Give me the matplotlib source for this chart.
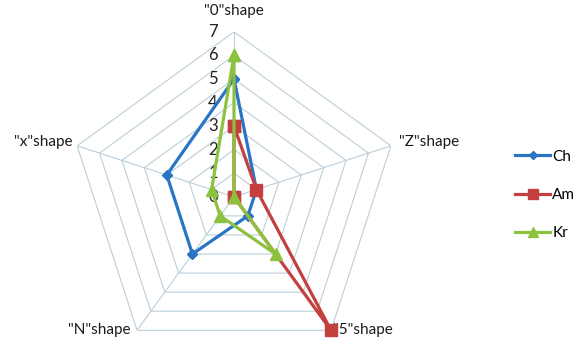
import numpy as np
import matplotlib
matplotlib.use("Agg")
import matplotlib.pyplot as plt

# categories clockwise from the top
categories = ['"0"shape', '"Z"shape', '"5"shape', '"N"shape', '"x"shape']
ch = [5, 1, 1, 3, 3]
am = [3, 1, 7, 0, 0]
kr = [6, 0, 3, 1, 1]
r_ticks = [0, 1, 2, 3, 4, 5, 6, 7]

plt.rcParams['font.family'] = ['Lato', 'DejaVu Sans']

fig = plt.figure(figsize=(5.84, 3.42), dpi=100)
# polar axes placed so that the web sits where the reference has it
ax = fig.add_axes([0.1182, -0.058, 0.565, 0.965], projection='polar')
ax.set_theta_zero_location('N')
ax.set_theta_direction(-1)
ax.set_ylim(0, r_ticks[-1])
ax.grid(False)
ax.set_xticks([])
ax.set_yticks([])
ax.spines['polar'].set_visible(False)
ax.patch.set_visible(False)

n = len(categories)
theta = np.linspace(0, 2 * np.pi, n, endpoint=False)
theta_c = np.append(theta, theta[0])

grid_col = '#bccfda'
for r in r_ticks[1:]:
    ax.plot(theta_c, [r] * (n + 1), color=grid_col, lw=0.8, zorder=1)
for t in theta:
    ax.plot([t, t], [0, r_ticks[-1]], color=grid_col, lw=0.8, zorder=1)

# radial value labels left of the vertical spoke
for r in r_ticks:
    ax.annotate(str(r), xy=(0, r), xytext=(-21, 0), textcoords='offset pixels',
                ha='center', va='center', fontsize=12, color='#222222',
                annotation_clip=False)

# category labels around the web
offsets = [((0, 14), 'center', 'bottom'),
           ((8, 4), 'left', 'center'),
           ((2, 0), 'left', 'center'),
           ((-7, 0), 'right', 'center'),
           ((-5, 4), 'right', 'center')]
for t, lab, (off, ha, va) in zip(theta, categories, offsets):
    ax.annotate(lab, xy=(t, r_ticks[-1]), xytext=off, textcoords='offset pixels',
                ha=ha, va=va, fontsize=11, color='#1a1a1a', annotation_clip=False)

series = [('Ch', ch, '#2A74C6', 'D', 5),
          ('Am', am, '#C3403E', 's', 8),
          ('Kr', kr, '#8DC23F', '^', 8)]
handles = []
for name, vals, col, mk, ms in series:
    v = np.append(vals, vals[0])
    h, = ax.plot(theta_c, v, color=col, lw=2.3, marker=mk, ms=ms,
                 label=name, zorder=3, clip_on=False)
    handles.append(h)

fig.legend(handles=handles, loc='center left',
           bbox_to_anchor=(515 / 584, (342 - 195) / 342),
           frameon=False, fontsize=11, labelspacing=1.6,
           handlelength=2.3, handletextpad=0.15, borderpad=0, borderaxespad=0,
           markerscale=0.85)

fig.savefig('out.png', dpi=100)
